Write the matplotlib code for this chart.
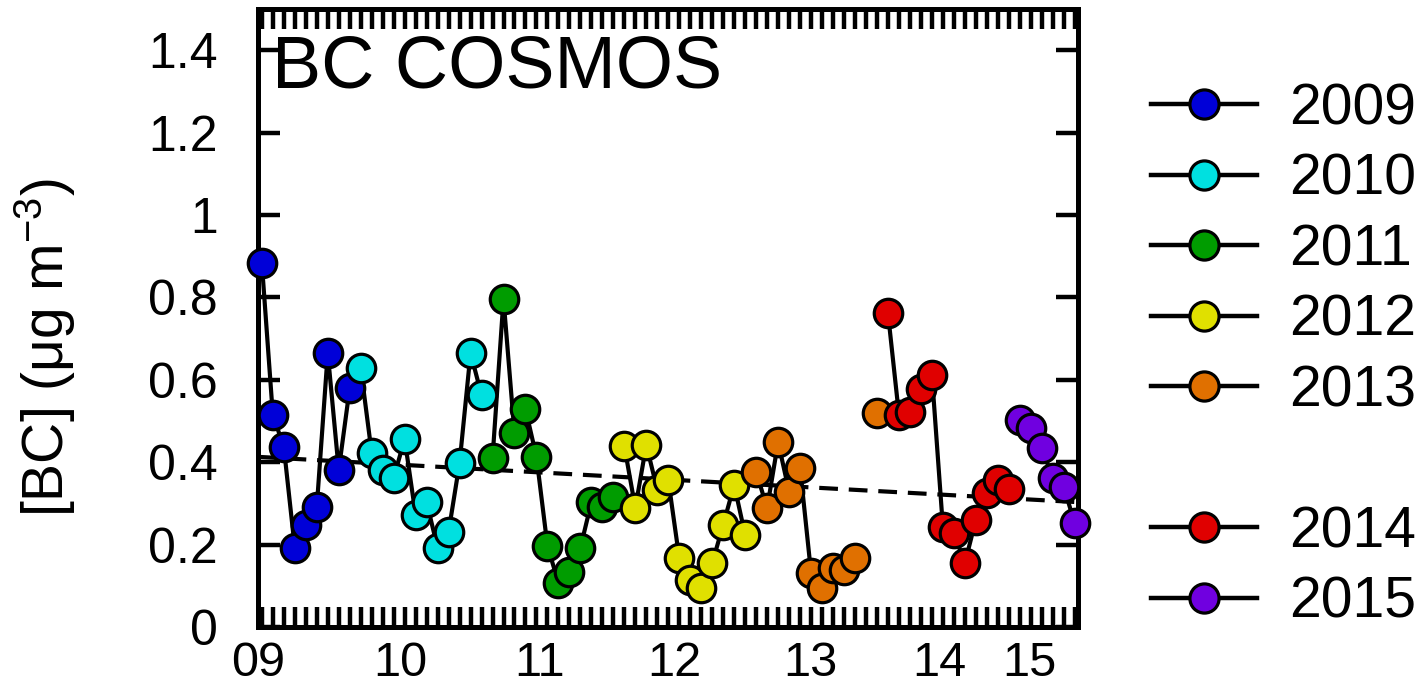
import numpy as np
import matplotlib
matplotlib.use('Agg')
import matplotlib.pyplot as plt
from matplotlib.lines import Line2D

plt.rcParams['font.family'] = ['Liberation Sans', 'DejaVu Sans']
plt.rcParams['mathtext.default'] = 'regular'

# monthly mean BC, one list per year (nan = missing month)
years = ['2009', '2010', '2011', '2012', '2013', '2014', '2015']
colors = ['#0000d8', '#00e0e0', '#009c00', '#e0e000', '#e07000', '#e00000', '#7000e0']

bc_2009 = [0.883, 0.515, 0.437, 0.192, 0.248, 0.291, 0.665, 0.381, 0.580]
bc_2010 = [0.629, 0.422, 0.381, 0.362, 0.456, 0.272, 0.303, 0.192, 0.231, 0.398, 0.665, 0.563]
bc_2011 = [0.410, 0.796, 0.471, 0.529, 0.413, 0.197, 0.107, 0.133, 0.192, 0.303, 0.291, 0.316]
bc_2012 = [0.439, 0.289, 0.442, 0.333, 0.357, 0.167, 0.114, 0.095, 0.155, 0.248, 0.345, 0.223]
bc_2013 = [0.376, 0.289, 0.449, 0.328, 0.386, 0.131, 0.095, 0.143, 0.138, 0.167, np.nan, 0.519]
bc_2014 = [0.762, 0.515, 0.522, 0.578, 0.612, 0.243, 0.228, 0.155, 0.260, 0.325, 0.357, 0.335]
bc_2015 = [0.502, 0.483, 0.434, 0.362, 0.340, 0.252]
series = [bc_2009, bc_2010, bc_2011, bc_2012, bc_2013, bc_2014, bc_2015]

# linear trend over the whole record (values at both ends of the axis)
trend_start = 0.413
trend_end = 0.303

year_labels = ['09', '10', '11', '12', '13', '14', '15']
year_label_pos = [-0.3, 12.6, 25.3, 37.6, 49.9, 61.7, 69.9]

ytick_vals = [0, 0.2, 0.4, 0.6, 0.8, 1.0, 1.2, 1.4]
ytick_labels = ['0', '0.2', '0.4', '0.6', '0.8', '1', '1.2', '1.4']

fig = plt.figure(figsize=(14.25, 6.95), dpi=100)
ax = fig.add_axes([258 / 1425, 68 / 695, 820 / 1425, 618 / 695])

x_lo, x_hi = -0.35, 74.3
n_total = sum(len(s) for s in series)

ax.plot([x_lo, x_hi], [trend_start, trend_end], color='k', lw=3,
        linestyle=(0, (4.5, 2.6)), zorder=2)

start = 0
for year, vals, c in zip(years, series, colors):
    x = np.arange(start, start + len(vals))
    ax.plot(x, vals, color='k', lw=3, zorder=3, clip_on=False)
    ax.plot(x, vals, 'o', ms=20.5, mfc=c, mec='k', mew=2.3, zorder=4, clip_on=False)
    start += len(vals)

ax.set_xlim(x_lo, x_hi)
ax.set_ylim(0, 1.5)

ax.set_yticks(ytick_vals)
ax.set_yticklabels(ytick_labels)
ax.tick_params(axis='y', which='major', direction='in', length=16, width=3.2,
               left=True, right=True, labelsize=36, pad=29)

ax.set_xticks(year_label_pos)
ax.set_xticklabels(year_labels, fontsize=35)
ax.set_xticks(np.arange(n_total), minor=True)
ax.tick_params(axis='x', which='major', length=0, pad=10)
ax.tick_params(axis='x', which='minor', direction='in', length=14.5, width=3.2,
               top=True, bottom=True)

for s in ax.spines.values():
    s.set_linewidth(3.6)

ax.text(0.017, 0.96, 'BC COSMOS', transform=ax.transAxes, fontsize=53,
        ha='left', va='top')

fig.text(0.032, 0.50, '[BC] (μg m$^{-3}$)', rotation=90, fontsize=41,
         ha='center', va='center')

# legend with an empty row between 2013 and 2014
handles = [Line2D([], [], color='k', lw=3.2, marker='o', ms=21, mfc=c, mec='k', mew=2.3)
           for c in colors]
labels = list(years)
handles.insert(5, Line2D([], [], linestyle='none'))
labels.insert(5, ' ')
fig.legend(handles, labels, loc='upper left', bbox_to_anchor=(0.808, 0.882),
           frameon=False, fontsize=41, handlelength=1.86, handletextpad=0.56,
           labelspacing=0.29, borderpad=0, borderaxespad=0)

fig.savefig('out.png', dpi=100)
